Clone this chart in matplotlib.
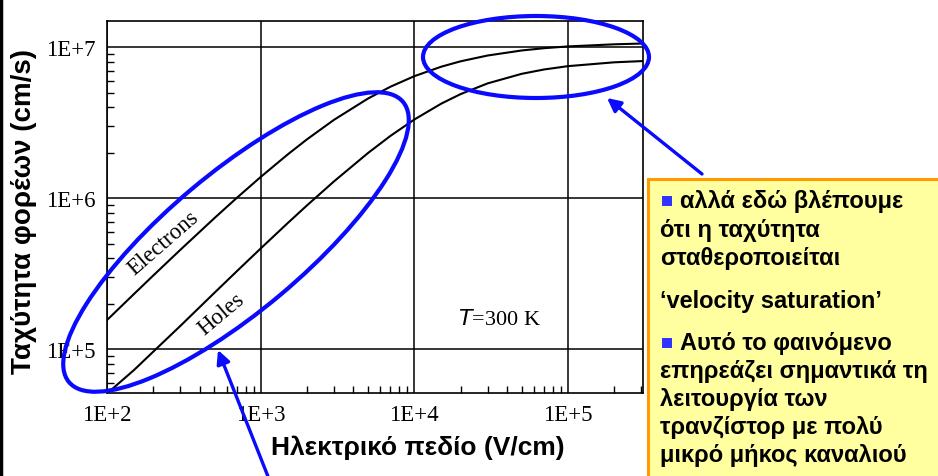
import numpy as np
import matplotlib
matplotlib.use("Agg")
import matplotlib.pyplot as plt
from matplotlib.patches import Ellipse, Rectangle
from matplotlib.ticker import LogLocator, NullFormatter

plt.rcParams["font.family"] = "Liberation Sans"

# drift velocity vs electric field, Si at 300 K
field = [100, 150, 200, 300, 500, 700, 1e3, 1.5e3, 2e3, 3e3, 5e3, 7e3,
         1e4, 1.5e4, 2e4, 3e4, 5e4, 7e4, 1e5, 2e5, 3.08e5]
v_electrons = [1.562e5, 2.326e5, 3.080e5, 4.554e5, 7.383e5, 1.006e6, 1.382e6,
               1.949e6, 2.451e6, 3.302e6, 4.571e6, 5.473e6, 6.423e6, 7.426e6,
               8.056e6, 8.801e6, 9.505e6, 9.842e6, 1.011e7, 1.044e7, 1.057e7]
v_holes = [5.10e4, 7.30e4, 9.65e4, 1.428e5, 2.365e5, 3.289e5, 4.649e5, 6.846e5,
           8.956e5, 1.292e6, 1.993e6, 2.587e6, 3.318e6, 4.230e6, 4.886e6,
           5.755e6, 6.659e6, 7.116e6, 7.485e6, 7.935e6, 8.090e6]

xticks = [1e2, 1e3, 1e4, 1e5]
xticklabels = ["1E+2", "1E+3", "1E+4", "1E+5"]
yticks = [1e5, 1e6, 1e7]
yticklabels = ["1E+5", "1E+6", "1E+7"]

note_lines = [
    (True, "αλλά εδώ βλέπουμε"),
    (False, "ότι η ταχύτητα"),
    (False, "σταθεροποιείται"),
    (False, "‘velocity saturation’"),
    (True, "Αυτό το φαινόμενο"),
    (False, "επηρεάζει σημαντικά τη"),
    (False, "λειτουργία των"),
    (False, "τρανζίστορ με πολύ"),
    (False, "μικρό μήκος καναλιού"),
]

W, H = 938, 477
fig = plt.figure(figsize=(W / 100, H / 100), dpi=100)
ax = fig.add_axes([107 / W, 1 - 394 / H, 536 / W, 372 / H])

ax.plot(field, v_electrons, color="black", lw=1.5)
ax.plot(field, v_holes, color="black", lw=1.5)
ax.set_xscale("log")
ax.set_yscale("log")
ax.set_xlim(100, 3.08e5)
ax.set_ylim(10 ** 4.711, 10 ** 7.173)

serif = "Liberation Serif"
ax.set_xticks(xticks)
ax.set_xticklabels(xticklabels, family=serif, fontsize=16.5)
ax.set_yticks(yticks)
ax.set_yticklabels(yticklabels, family=serif, fontsize=16.5)
ax.xaxis.set_minor_locator(LogLocator(base=10, subs=np.arange(2, 10)))
ax.yaxis.set_minor_locator(LogLocator(base=10, subs=np.arange(2, 10)))
ax.xaxis.set_minor_formatter(NullFormatter())
ax.yaxis.set_minor_formatter(NullFormatter())
ax.tick_params(which="major", length=0, pad=8)
ax.tick_params(which="minor", direction="in", length=5, width=1,
               top=False, right=False)
ax.grid(which="major", color="black", lw=1.1)
for s in ax.spines.values():
    s.set_linewidth(1.2)

# overlay in pixel coordinates for the highlights and the note
ov = fig.add_axes([0, 0, 1, 1], zorder=5)
ov.set_xlim(0, W)
ov.set_ylim(H, 0)
ov.axis("off")
ov.patch.set_alpha(0)

ov.text(163, 243, "Electrons", family=serif, fontsize=16.5,
        rotation=41, ha="center", va="center", rotation_mode="anchor")
ov.text(221, 315, "Holes", family=serif, fontsize=16.5,
        rotation=40, ha="center", va="center", rotation_mode="anchor")
ov.text(499, 320, r"$\it{T}$=300 K", family=serif, fontsize=16,
        ha="center", va="center")

blue = "#0a0aff"
ov.add_patch(Ellipse((236, 243), 436, 138, angle=-40, fill=False,
                     ec=blue, lw=3))
ov.add_patch(Ellipse((536, 58), 226, 82, angle=0, fill=False,
                     ec=blue, lw=3))
arrow = dict(arrowstyle="-|>", color=blue, lw=2.4, mutation_scale=20,
             shrinkA=0, shrinkB=0)
ov.annotate("", xy=(607, 99), xytext=(702, 175), arrowprops=arrow)
ov.annotate("", xy=(218, 351), xytext=(269, 480), arrowprops=arrow)

ov.text(24, 212, "Ταχύτητα φορέων (cm/s)", rotation=90, fontsize=20,
        fontweight="bold", ha="center", va="center")
ov.text(418, 448, "Ηλεκτρικό πεδίο (V/cm)", fontsize=19,
        fontweight="bold", ha="center", va="center")

ov.plot([1, 1], [0, H], color="black", lw=2.5)

ov.add_patch(Rectangle((648, 180), 320, 320, fc="#ffffa0", ec="#ff9a00",
                       lw=2.2))
ys = [202, 231, 259, 302, 344, 372, 400, 428, 456]
for (bullet, txt), y in zip(note_lines, ys):
    if bullet:
        ov.add_patch(Rectangle((662, y - 5), 10, 10, fc="#3333ff", ec="none"))
        ov.text(680, y, txt, fontsize=17, fontweight="bold", va="center")
    else:
        ov.text(660, y, txt, fontsize=17, fontweight="bold", va="center")

fig.savefig("out.png", dpi=100)
